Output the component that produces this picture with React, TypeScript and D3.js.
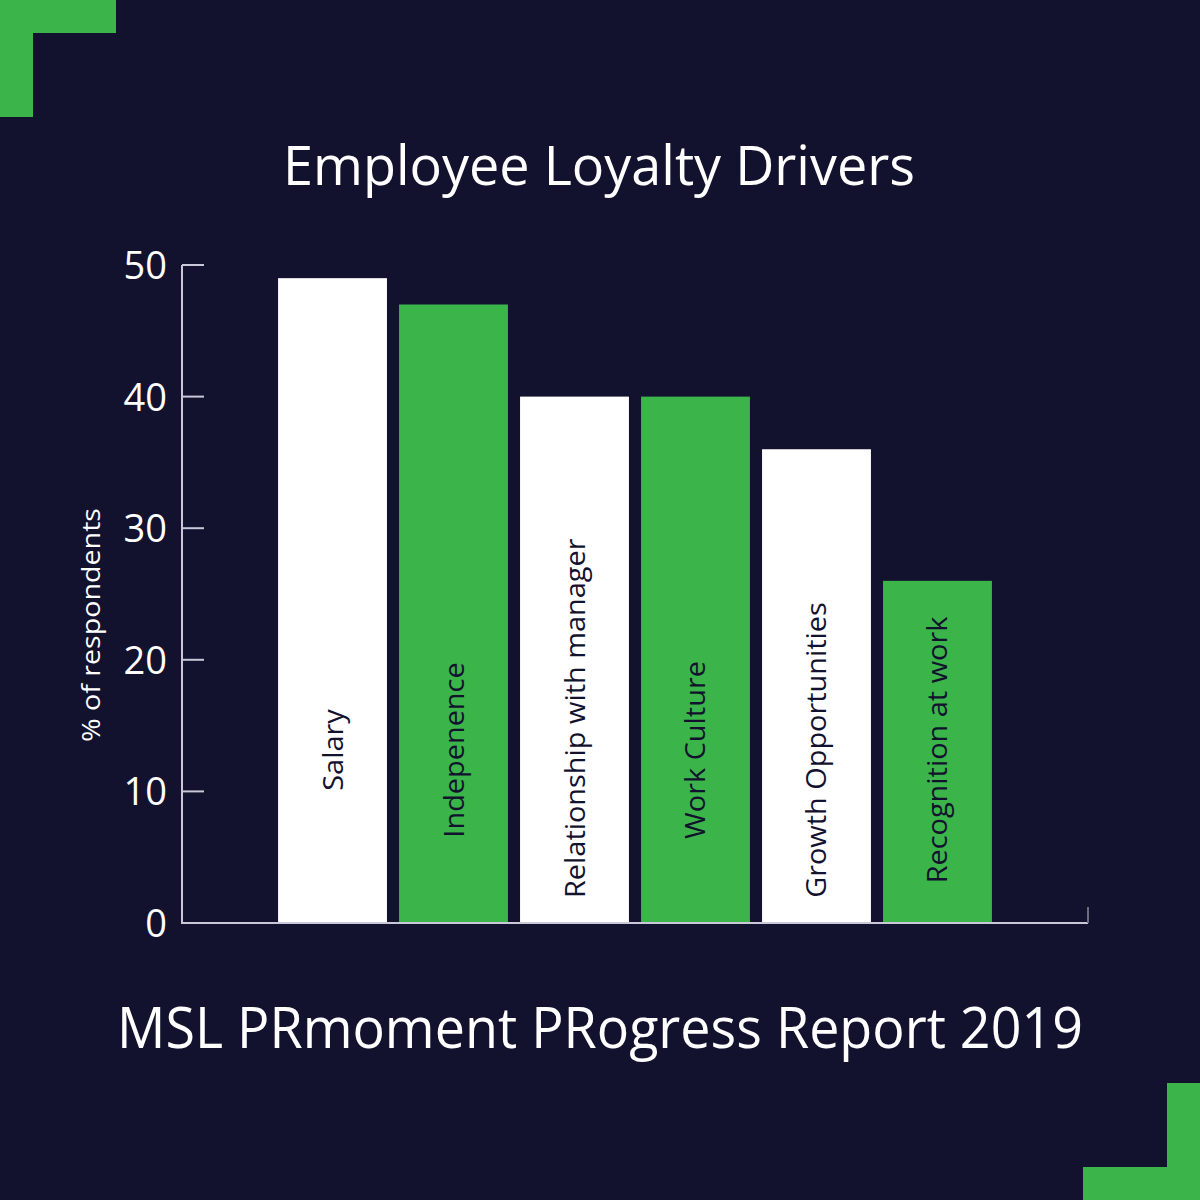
import React, { useEffect, useRef } from "react";
import * as d3 from "d3";

const categories = [
  "Salary",
  "Indepenence",
  "Relationship with manager",
  "Work Culture",
  "Growth Opportunities",
  "Recognition at work",
];
const values = [49, 47, 40, 40, 36, 26];
const barColors = ["#ffffff", "#3bb44a", "#ffffff", "#3bb44a", "#ffffff", "#3bb44a"];
const yTicks = [0, 10, 20, 30, 40, 50];
const titleText = "Employee Loyalty Drivers";
const footerText = "MSL PRmoment PRogress Report 2019";
const yAxisTitle = "% of respondents";

const BG = "#12112e";
const GREEN = "#3bb44a";
const AXIS = "#c8c8d8";
const FONT = "'Open Sans', 'Noto Sans', sans-serif";

export default function App() {
  const ref = useRef<SVGSVGElement | null>(null);

  useEffect(() => {
    document.body.style.margin = "0";
    document.body.style.background = BG;
    const svg = d3.select(ref.current);
    svg.selectAll("*").remove();

    const W = 1200, H = 1200;
    svg.append("rect").attr("width", W).attr("height", H).attr("fill", BG);

    // corner decorations
    const corner = svg.append("g").attr("fill", GREEN);
    corner.append("rect").attr("x", 0).attr("y", 0).attr("width", 116).attr("height", 33);
    corner.append("rect").attr("x", 0).attr("y", 0).attr("width", 33).attr("height", 117);
    corner.append("rect").attr("x", 1083).attr("y", 1167).attr("width", 117).attr("height", 33);
    corner.append("rect").attr("x", 1167).attr("y", 1083).attr("width", 33).attr("height", 117);

    const x0 = 182, x1 = 1088, yTop = 265, yBottom = 923;
    const x = d3.scaleBand<string>().domain(categories).range([x0, x1]).paddingInner(0.1).paddingOuter(0.794);
    const y = d3.scaleLinear().domain([0, 50]).range([yBottom, yTop]);

    // title
    svg.append("text")
      .attr("x", 599).attr("y", 185)
      .attr("text-anchor", "middle")
      .attr("fill", "#ffffff")
      .attr("font-family", FONT)
      .attr("font-size", 54)
      .attr("textLength", 632)
      .attr("lengthAdjust", "spacingAndGlyphs")
      .text(titleText);

    // footer
    svg.append("text")
      .attr("x", 600).attr("y", 1048)
      .attr("text-anchor", "middle")
      .attr("fill", "#ffffff")
      .attr("font-family", FONT)
      .attr("font-size", 56)
      .attr("textLength", 966)
      .attr("lengthAdjust", "spacingAndGlyphs")
      .text(footerText);

    // bars
    const bars = svg.append("g");
    categories.forEach((c, i) => {
      bars.append("rect")
        .attr("x", x(c)!)
        .attr("y", y(values[i]))
        .attr("width", x.bandwidth())
        .attr("height", y(0) - y(values[i]))
        .attr("fill", barColors[i]);
    });

    // bar labels (rotated)
    categories.forEach((c, i) => {
      const cx = x(c)! + x.bandwidth() / 2;
      const t = bars.append("text")
        .attr("fill", BG)
        .attr("font-family", FONT)
        .attr("font-size", 27)
        .attr("text-anchor", "middle")
        .text(c);
      const natural = (t.node() as SVGTextElement).getComputedTextLength();
      const len = natural * 1.07;
      t.attr("textLength", len).attr("lengthAdjust", "spacingAndGlyphs");
      const cy = Math.min(750, 898 - len / 2);
      t.attr("transform", `translate(${cx + 10},${cy}) rotate(-90)`);
    });

    // axes
    const ax = svg.append("g").attr("stroke", AXIS).attr("stroke-width", 2).attr("fill", "none");
    ax.append("line").attr("x1", x0).attr("x2", x0).attr("y1", yTop).attr("y2", yBottom + 1);
    ax.append("line").attr("x1", x0).attr("x2", x1).attr("y1", yBottom).attr("y2", yBottom);
    ax.append("line").attr("x1", x1).attr("x2", x1).attr("y1", yBottom - 16).attr("y2", yBottom).attr("stroke", "#6c6c80");
    yTicks.forEach((v) => {
      if (v > 0) ax.append("line").attr("x1", x0).attr("x2", x0 + 22).attr("y1", y(v)).attr("y2", y(v));
      svg.append("text")
        .attr("x", x0 - 15)
        .attr("y", y(v) + 14)
        .attr("text-anchor", "end")
        .attr("fill", "#ffffff")
        .attr("font-family", FONT)
        .attr("font-size", 38)
        .text(String(v));
    });

    // y axis title
    svg.append("text")
      .attr("transform", `translate(100,625) rotate(-90)`)
      .attr("text-anchor", "middle")
      .attr("fill", "#ffffff")
      .attr("font-family", FONT)
      .attr("font-size", 25)
      .attr("textLength", 234)
      .attr("lengthAdjust", "spacingAndGlyphs")
      .text(yAxisTitle);
  }, []);

  return <svg ref={ref} width={1200} height={1200} style={{ display: "block", position: "absolute", left: 0, top: 0 }} />;
}
